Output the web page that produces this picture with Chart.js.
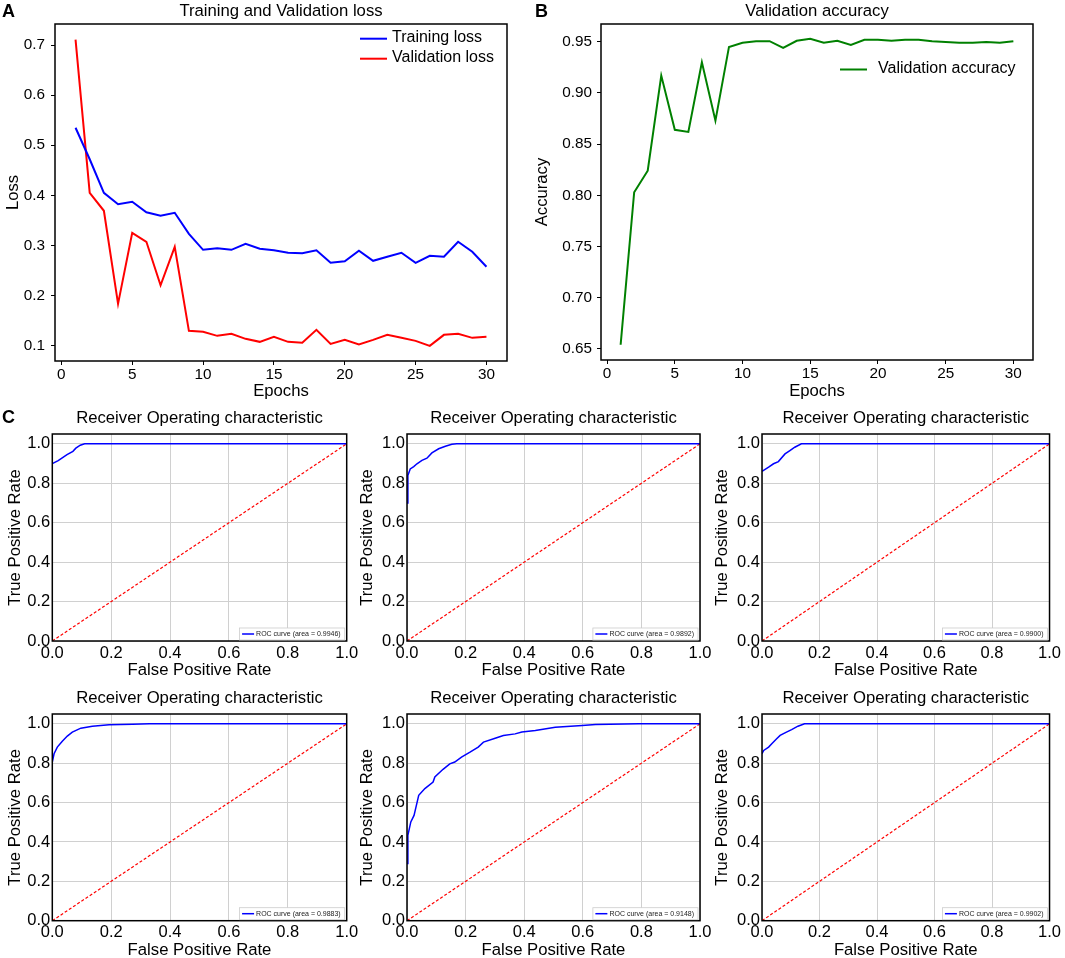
<!DOCTYPE html>
<html>
<head>
<meta charset="utf-8">
<script src="https://cdn.jsdelivr.net/npm/chart.js@4.4.1/dist/chart.umd.min.js"></script>
<style>
  html, body { margin: 0; padding: 0; background: #ffffff; }
  #wrap { position: relative; width: 1065px; height: 958px; background: #ffffff; overflow: hidden; }
  #wrap canvas { position: absolute; left: 0; top: 0; }
  .panel { position: absolute; font: bold 18px "Liberation Sans", Arial, sans-serif; line-height: 18px; color: #000; }
</style>
</head>
<body>
<div id="wrap">
  <canvas id="cA" width="1065" height="958"></canvas>
  <canvas id="cB" width="1065" height="958"></canvas>
  <canvas id="c1" width="1065" height="958"></canvas>
  <canvas id="c2" width="1065" height="958"></canvas>
  <canvas id="c3" width="1065" height="958"></canvas>
  <canvas id="c4" width="1065" height="958"></canvas>
  <canvas id="c5" width="1065" height="958"></canvas>
  <canvas id="c6" width="1065" height="958"></canvas>
  <div class="panel" style="left:2px;top:2px;">A</div>
  <div class="panel" style="left:535px;top:2px;">B</div>
  <div class="panel" style="left:2px;top:408px;">C</div>
</div>
<script>
// ---------------- DATA ----------------
const epochs = [1,2,3,4,5,6,7,8,9,10,11,12,13,14,15,16,17,18,19,20,21,22,23,24,25,26,27,28,29,30];
const trainingLoss = [0.535,0.472,0.405,0.382,0.387,0.366,0.359,0.365,0.323,0.291,0.294,0.291,0.303,0.293,0.290,0.285,0.284,0.290,0.265,0.268,0.289,0.269,0.277,0.285,0.265,0.279,0.277,0.307,0.287,0.257];
const validationLoss = [0.711,0.405,0.369,0.183,0.325,0.307,0.220,0.297,0.129,0.127,0.119,0.123,0.113,0.107,0.117,0.107,0.105,0.131,0.103,0.111,0.102,0.111,0.121,0.115,0.109,0.099,0.121,0.123,0.115,0.117];
const validationAccuracy = [0.654,0.803,0.824,0.917,0.864,0.862,0.930,0.873,0.945,0.949,0.9506,0.9506,0.944,0.951,0.953,0.949,0.951,0.947,0.952,0.952,0.951,0.952,0.952,0.9506,0.9497,0.949,0.949,0.9497,0.949,0.9506];

const epochTicks = [0,5,10,15,20,25,30];
const lossTicks = [0.1,0.2,0.3,0.4,0.5,0.6,0.7];
const accuracyTicks = [0.65,0.70,0.75,0.80,0.85,0.90,0.95];
const rateTicks = [0.0,0.2,0.4,0.6,0.8,1.0];

const roc1Fpr = [0,0.02,0.035,0.05,0.07,0.08,0.095,0.11,1.0];
const roc1Tpr = [0.90,0.915,0.93,0.945,0.962,0.978,0.993,1.0,1.0];
const roc2Fpr = [0,0.003,0.011,0.023,0.034,0.051,0.068,0.085,0.108,0.131,0.153,0.17,1.0];
const roc2Tpr = [0.70,0.84,0.873,0.885,0.899,0.916,0.927,0.954,0.975,0.988,0.998,1.0,1.0];
const roc3Fpr = [0,0.023,0.04,0.057,0.08,0.097,0.114,0.137,1.0];
const roc3Tpr = [0.861,0.882,0.899,0.91,0.949,0.966,0.983,1.0,1.0];
const roc4Fpr = [0,0.006,0.017,0.034,0.051,0.068,0.097,0.136,0.193,0.273,0.33,1.0];
const roc4Tpr = [0.806,0.848,0.882,0.912,0.938,0.958,0.978,0.988,0.995,0.998,1.0,1.0];
const roc5Fpr = [0,0.003,0.013,0.024,0.032,0.04,0.061,0.089,0.095,0.123,0.146,0.163,0.186,0.215,0.243,0.261,0.301,0.329,0.369,0.392,0.438,0.506,0.598,0.643,0.792,1.0];
const roc5Tpr = [0.29,0.434,0.502,0.535,0.586,0.637,0.671,0.704,0.73,0.769,0.797,0.806,0.831,0.856,0.882,0.907,0.927,0.941,0.949,0.958,0.966,0.983,0.992,0.997,1.0,1.0];
const roc6Fpr = [0,0.006,0.023,0.034,0.051,0.063,0.085,0.103,0.125,0.148,1.0];
const roc6Tpr = [0.848,0.865,0.882,0.899,0.924,0.941,0.958,0.971,0.988,1.0,1.0];
const rocAreas = ['0.9946','0.9892','0.9900','0.9883','0.9148','0.9902'];
const chanceFpr = [0,1];
const chanceTpr = [0,1];

// ---------------- HELPERS ----------------
const FONT = '"Liberation Sans", Arial, Helvetica, sans-serif';
Chart.defaults.font.family = FONT;
Chart.defaults.color = '#000';
const W = 1065, H = 958;
const LABEL_SIZE = 16.7;

function pts(xs, ys) { return xs.map((x, i) => ({ x: x, y: ys[i] })); }

const framePlugin = {
  id: 'frameBox',
  afterDatasetsDraw(chart) {
    const a = chart.chartArea, ctx = chart.ctx;
    ctx.save();
    ctx.strokeStyle = '#000';
    ctx.lineWidth = 1.5;
    ctx.strokeRect(a.left, a.top, a.right - a.left, a.bottom - a.top);
    ctx.restore();
  }
};

function lineLegendPlugin(spec) {
  return {
    id: 'lineLegend',
    afterDatasetsDraw(chart) {
      const ctx = chart.ctx;
      ctx.save();
      ctx.font = '16px ' + FONT;
      ctx.textBaseline = 'middle';
      ctx.textAlign = 'left';
      chart.data.datasets.forEach((ds, i) => {
        const y = spec.y + i * spec.dy;
        ctx.strokeStyle = ds.borderColor;
        ctx.lineWidth = 2;
        ctx.beginPath();
        ctx.moveTo(spec.x0, y + 1);
        ctx.lineTo(spec.x1, y + 1);
        ctx.stroke();
        ctx.fillStyle = '#000';
        ctx.fillText(ds.label, spec.tx, y);
      });
      ctx.restore();
    }
  };
}

const rocLegendPlugin = {
  id: 'rocLegend',
  afterDatasetsDraw(chart) {
    const ds = chart.data.datasets[0];
    const a = chart.chartArea, ctx = chart.ctx;
    ctx.save();
    ctx.font = '7px ' + FONT;
    const tw = ctx.measureText(ds.label).width;
    const bw = 2.5 + 12 + 2 + tw + 4;
    const bh = 12;
    const x1 = a.right - 2, x0 = x1 - bw;
    const y1 = a.bottom - 1, y0 = y1 - bh;
    ctx.fillStyle = '#fff';
    ctx.fillRect(x0, y0, bw, bh);
    ctx.strokeStyle = '#cccccc';
    ctx.lineWidth = 0.8;
    ctx.strokeRect(x0, y0, bw, bh);
    const ym = (y0 + y1) / 2;
    ctx.strokeStyle = ds.borderColor;
    ctx.lineWidth = 1.5;
    ctx.beginPath();
    ctx.moveTo(x0 + 2.5, ym);
    ctx.lineTo(x0 + 14.5, ym);
    ctx.stroke();
    ctx.fillStyle = '#222';
    ctx.textBaseline = 'middle';
    ctx.textAlign = 'left';
    ctx.fillText(ds.label, x0 + 16.5, ym + 0.5);
    ctx.restore();
  }
};

function makeChart(id, o) {
  const half = LABEL_SIZE / 2;
  const yw = o.l - (o.yTitleX - half);
  const xh = o.xTitleY + half - o.b;
  const isRoc = !!o.roc;
  const gridCfg = isRoc
    ? { display: true, drawOnChartArea: true, drawTicks: false, color: '#d0d0d0', lineWidth: 1 }
    : { display: true, drawOnChartArea: false, drawTicks: true, tickLength: 4, color: '#000', lineWidth: 1 };
  const plugins = [framePlugin];
  if (o.legend) plugins.push(lineLegendPlugin(o.legend));
  if (isRoc) plugins.push(rocLegendPlugin);
  return new Chart(document.getElementById(id), {
    type: 'scatter',
    data: { datasets: o.datasets },
    options: {
      responsive: false,
      animation: false,
      events: [],
      devicePixelRatio: 1,
      layout: { padding: { left: o.yTitleX - half, top: o.titleY - half, right: W - o.r, bottom: H - (o.xTitleY + half) } },
      plugins: {
        legend: { display: false },
        tooltip: { enabled: false },
        title: {
          display: true, text: o.title, fullSize: false, color: '#000',
          font: { size: LABEL_SIZE, weight: 'normal', lineHeight: 1 },
          padding: { top: 0, bottom: o.t - o.titleY - half }
        }
      },
      scales: {
        x: {
          type: 'linear', min: o.xMin, max: o.xMax,
          afterFit: s => { s.height = xh; },
          afterBuildTicks: s => { s.ticks = o.xTicks.map(v => ({ value: v })); },
          ticks: { font: { size: o.tickSize, lineHeight: 1 }, padding: o.xPad, maxRotation: 0, autoSkip: false, color: '#000',
                   callback: v => v.toFixed(o.xDec) },
          grid: gridCfg,
          border: { display: false },
          title: { display: true, text: o.xTitle, color: '#000', font: { size: LABEL_SIZE, lineHeight: 1 }, padding: 0 }
        },
        y: {
          type: 'linear', min: o.yMin, max: o.yMax,
          afterFit: s => { s.width = yw; },
          afterBuildTicks: s => { s.ticks = o.yTicks.map(v => ({ value: v })); },
          ticks: { font: { size: o.tickSize, lineHeight: 1 }, padding: o.yPad, autoSkip: false, color: '#000',
                   callback: v => v.toFixed(o.yDec) },
          grid: gridCfg,
          border: { display: false },
          title: { display: true, text: o.yTitle, color: '#000', font: { size: LABEL_SIZE, lineHeight: 1 }, padding: 0 }
        }
      }
    },
    plugins: plugins
  });
}

// ---------------- PANEL A ----------------
makeChart('cA', {
  l: 55, t: 24, r: 507, b: 361, titleY: 11, xTitleY: 391, yTitleX: 13.3,
  title: 'Training and Validation loss', xTitle: 'Epochs', yTitle: 'Loss',
  xMin: -0.45, xMax: 31.45, yMin: 0.0687, yMax: 0.7424,
  xTicks: epochTicks, yTicks: lossTicks, xDec: 0, yDec: 1,
  tickSize: 15.3, xPad: 2.5, yPad: 6,
  legend: { x0: 360, x1: 387, tx: 392, y: 37.7, dy: 20 },
  datasets: [
    { label: 'Training loss', data: pts(epochs, trainingLoss), showLine: true, borderColor: '#0000ff', borderWidth: 2, pointRadius: 0, tension: 0 },
    { label: 'Validation loss', data: pts(epochs, validationLoss), showLine: true, borderColor: '#ff0000', borderWidth: 2, pointRadius: 0, tension: 0 }
  ]
});

// ---------------- PANEL B ----------------
makeChart('cB', {
  l: 601, t: 24, r: 1033, b: 360, titleY: 11, xTitleY: 391, yTitleX: 542,
  title: 'Validation accuracy', xTitle: 'Epochs', yTitle: 'Accuracy',
  xMin: -0.45, xMax: 31.45, yMin: 0.6391, yMax: 0.9674,
  xTicks: epochTicks, yTicks: accuracyTicks, xDec: 0, yDec: 2,
  tickSize: 15.3, xPad: 2.5, yPad: 5,
  legend: { x0: 840, x1: 867, tx: 878, y: 68.5, dy: 20 },
  datasets: [
    { label: 'Validation accuracy', data: pts(epochs, validationAccuracy), showLine: true, borderColor: '#008000', borderWidth: 2, pointRadius: 0, tension: 0 }
  ]
});

// ---------------- PANEL C (ROC) ----------------
const rocFprs = [roc1Fpr, roc2Fpr, roc3Fpr, roc4Fpr, roc5Fpr, roc6Fpr];
const rocTprs = [roc1Tpr, roc2Tpr, roc3Tpr, roc4Tpr, roc5Tpr, roc6Tpr];
const rocBoxes = [
  { l: 52.3, r: 346.7, yTitleX: 15.5 },
  { l: 407, r: 700, yTitleX: 367 },
  { l: 762, r: 1054.3, yTitleX: 722.5 }
];
const rocRows = [
  { t: 434, b: 641, titleY: 418, xTitleY: 670 },
  { t: 714, b: 920.7, titleY: 698.3, xTitleY: 950 }
];
for (let k = 0; k < 6; k++) {
  const col = rocBoxes[k % 3], row = rocRows[Math.floor(k / 3)];
  makeChart('c' + (k + 1), {
    l: col.l, r: col.r, yTitleX: col.yTitleX,
    t: row.t, b: row.b, titleY: row.titleY, xTitleY: row.xTitleY,
    title: 'Receiver Operating characteristic', xTitle: 'False Positive Rate', yTitle: 'True Positive Rate',
    xMin: 0, xMax: 1, yMin: 0, yMax: 1.05,
    xTicks: rateTicks, yTicks: rateTicks, xDec: 1, yDec: 1,
    tickSize: 16.5, xPad: 4, yPad: 2,
    roc: true,
    datasets: [
      { label: 'ROC curve (area = ' + rocAreas[k] + ')', data: pts(rocFprs[k], rocTprs[k]), showLine: true, borderColor: '#0000ff', borderWidth: 1.5, pointRadius: 0, tension: 0 },
      { label: 'chance', data: pts(chanceFpr, chanceTpr), showLine: true, borderColor: '#ff0000', borderWidth: 1.2, borderDash: [3, 2], pointRadius: 0, tension: 0 }
    ]
  });
}
</script>
</body>
</html>
